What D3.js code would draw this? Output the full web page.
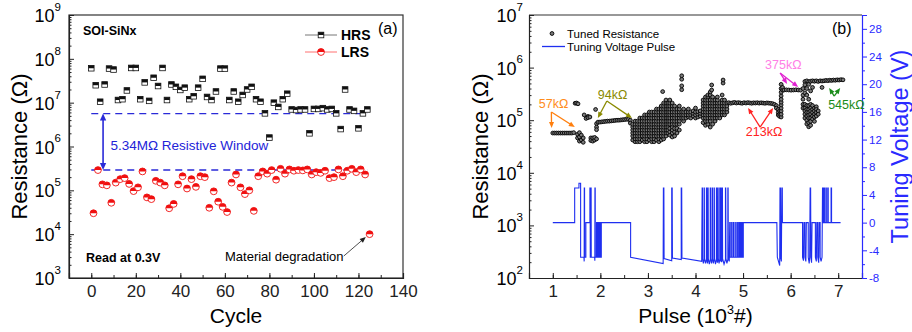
<!DOCTYPE html>
<html><head><meta charset="utf-8">
<script src="https://cdn.jsdelivr.net/npm/d3@7"></script>
<style>
body{margin:0;background:#fff;}
svg text{font-family:"Liberation Sans",Arial,Helvetica,sans-serif;}
</style></head>
<body><svg id="c" width="912" height="332"></svg>
<script>
// ---------------- DATA: panel (a) ----------------
const hrsCycle = [0,2,4,6,8,10,12,14,16,18,20,22,24,26,28,30,32,34,36,38,40,42,44,46,48,50,52,54,56,58,60,62,64,66,68,70,72,74,76,78,80,82,84,86,88,90,92,94,96,98,100,102,104,106,108,110,112,114,116,118,120,122,124];
const hrsMOhm = [61,25,10.5,26,60,57,11.5,12,19,62,62,12,29,11,37,24,62,11.5,26,23,19.5,22,12,14,22,35,13.5,11.5,18,60,60,11.5,18,10.5,15,20,23,12,10.5,5.7,1.6,10,8,12,16,7,6.8,7,7,2,7.2,7.2,7.5,7,7.2,5.7,2.5,20,7,6.5,2.6,5.7,7];
const lrsCycle = [1,3,5,7,9,11,13,15,17,19,21,23,25,27,29,31,33,35,37,39,41,43,45,47,49,51,53,55,57,59,61,63,65,67,69,71,73,75,77,79,81,83,85,87,89,91,93,95,97,99,101,103,105,107,109,111,113,115,117,119,121,123,125];
const lrsKOhm = [30,290,137,130,52,150,180,190,140,96,117,270,69,63,165,150,130,39,49,137,210,110,180,120,210,200,40,95,55,42,32,150,230,117,82,100,34,210,270,240,290,175,310,240,300,280,290,285,300,230,260,250,280,190,200,300,210,280,310,260,300,230,10];
const windowHigh = 5.63e6, windowLow = 2.9e5, windowCycles = [0,124];
const xTicksA = [0,20,40,60,80,100,120,140];
const yExpA = [3,4,5,6,7,8,9];

// ---------------- DATA: panel (b) ----------------
// tuned resistance: [pulse (10^3 #), [resistance values in kOhm]]
const tunedCols = [
[1.00,[57]],[1.04,[57]],[1.08,[57]],[1.12,[57]],[1.16,[57]],[1.20,[57]],[1.24,[57]],[1.28,[57]],[1.32,[57]],[1.36,[57]],[1.40,[57]],[1.44,[58]],
[1.47,[210]],[1.50,[212]],[1.53,[205]],
[1.52,[46,54]],[1.56,[40,48,58]],[1.60,[42,52]],[1.64,[46,38]],[1.66,[126]],[1.70,[108]],[1.74,[118,112]],[1.78,[115]],
[1.80,[46,41]],[1.84,[40,46]],[1.88,[42,47]],[1.90,[160]],[1.92,[44,86,74,66]],
[1.95,[92]],[1.99,[92]],[2.03,[93]],[2.07,[94]],[2.11,[95]],[2.15,[96]],[2.19,[96]],[2.23,[97]],[2.27,[98]],[2.31,[99]],[2.35,[100]],[2.39,[100]],[2.43,[101]],[2.47,[102]],[2.51,[103]],[2.55,[104]],[2.59,[104]],[2.63,[100,88]],
[2.68,[42,50,57,65,74,84]],
[2.73,[39,44,50,57,65,74,84,96]],
[2.78,[39,44,50,57,65,74,84,96]],
[2.83,[39,44,50,57,65,74,84,96,110]],
[2.88,[42,50,57,65,74,84,96,110]],
[2.93,[39,44,50,57,65,74,84,96,110,126]],
[2.98,[39,44,50,57,65,74,84,96,110,126]],
[3.03,[42,50,57,65,74,84,96,110,126,143]],
[3.08,[39,44,50,57,65,74,84,96,110,126,143]],
[3.13,[39,44,50,57,65,74,84,96,110,126,143]],
[3.18,[42,50,57,65,74,84,96,110,126,143,163]],
[3.23,[39,44,50,57,65,74,84,96,110,126,143,163]],
[3.28,[42,50,57,65,74,84,96,110,126,143,163,186]],
[3.31,[350]],
[3.33,[44,50,57,65,74,84,96,110,126,143,163,186,212]],
[3.38,[50,57,65,74,84,96,110,126,143,163,186,212,242]],
[3.42,[57,65,74,84,96,110,126,143,163,186,212]],
[3.46,[52,60,70,84,96,110,126,143,163,186,212,242]],
[3.51,[48,57,65,74,84,96,110,126,143,163,186,212]],
[3.56,[50,60,70,84,96,110,126,143,163,186]],
[3.61,[57,70,84,96,110,126,143,163]],
[3.66,[65,84,96,110,126,143,163,186]],
[3.71,[110,126,143,380,450,600,700]],
[3.75,[96,110,126,143,163]],
[3.80,[110,126,143]],
[3.85,[115,126,143,163]],
[3.90,[110,126,143]],
[3.95,[120,135,150]],
[4.00,[110,126,143,170]],
[4.05,[115,130,145]],
[4.10,[120,135,150]],
[4.16,[90,110,126,143,163,186,212,242]],
[4.21,[80,96,110,126,143,163,186,212,242,276]],
[4.26,[84,96,110,126,143,163,186,212,242,276,301]],
[4.31,[74,96,110,126,143,163,186,212,242,301,344]],
[4.34,[375,467]],
[4.36,[84,110,126,143,163,186,212,242,276]],
[4.41,[96,110,126,143,163,186,212,242]],
[4.46,[110,126,143,163,186,212,242,276]],
[4.51,[110,126,143,163,186,212]],
[4.56,[126,143,163,186,212,242,301]],
[4.58,[508,581]],
[4.61,[126,143,163,186,212,242]],
[4.66,[143,163,186,212]],
[4.70,[215]],[4.74,[210]],[4.78,[214]],[4.82,[218]],[4.86,[212]],[4.90,[216]],[4.94,[213]],[4.98,[210]],[5.02,[215]],[5.06,[212]],[5.10,[216]],[5.14,[213]],[5.18,[210]],[5.22,[214]],[5.26,[212]],[5.30,[215]],[5.34,[211]],[5.38,[214]],[5.42,[212]],[5.46,[210]],[5.50,[213]],[5.54,[211]],[5.58,[209]],[5.62,[206]],[5.66,[200]],
[5.70,[190,170]],[5.74,[160,140,125]],[5.77,[150,130,118]],
[5.80,[115,130,150,170,195,220,250,290,340,400,480]],
[5.83,[375,420]],
[5.86,[375]],[5.91,[378]],[5.96,[375]],[6.01,[372]],[6.06,[375]],[6.11,[378]],[6.16,[375]],[6.21,[372]],
[6.26,[400,300,250,200,170]],
[6.30,[545,470,330,200,170,150,130,110]],
[6.34,[560,400,300,190,160,140,120,100,85]],
[6.38,[540,480,250,190,160,140,125,110,90,75]],
[6.42,[550,360,200,170,150,130,110,95,80]],
[6.46,[560,420,190,160,140,120,105]],
[6.50,[550,170,150,130,115,95]],
[6.54,[560,180,160,140,120]],
[6.58,[545,150,130]],
[6.62,[560]],[6.66,[555,420]],[6.70,[560]],[6.74,[570]],[6.78,[565]],[6.82,[575]],[6.86,[570]],[6.90,[580]],[6.94,[575]],[6.98,[585]],[7.02,[580]],[7.06,[590]],[7.10,[585]]
];
// tuning voltage pulse: [pulse (10^3 #), volts]
const voltSteps = [
[1.00,0],[1.46,0],[1.46,5],[1.55,5],[1.55,5.7],[1.585,5.7],[1.585,-5],[1.655,-5],[1.66,-5.6],[1.662,5],[1.668,5],[1.67,-5],[1.695,-5],[1.695,0],[1.78,0],[1.78,5],[1.786,5],[1.788,-5],[1.80,-5],[1.80,5],[1.806,5],[1.808,-5],[1.88,-5],[1.884,-5.5],[1.886,5],[1.892,5],[1.894,-5],[1.92,-5],[1.92,0],[1.93,0],[1.93,-5],[1.94,-5],[1.94,0],[1.95,0],[1.95,-5],[1.96,-5],[1.96,0],[1.97,0],[1.97,-5],[1.98,-5],[1.98,0],[1.99,0],[1.99,-5],[2.00,-5],[2.00,0],[2.01,0],[2.01,-5],[2.02,-5],[2.02,0],
[2.636,0],[2.636,-5],[3.32,-5.9],[3.325,5],[3.335,5],[3.34,-5.2],[3.50,-5.5],[3.50,5],[3.51,5],[3.515,-5.1],[3.70,-5.35],[3.70,5],[3.71,5],[3.715,-5.1],[4.13,-5.6],
[4.14,5],[4.146,5],[4.15,-5.2],[4.165,-5.9],[4.18,-5.3],[4.18,5],[4.186,5],[4.19,-5.2],[4.21,-5.9],[4.23,-5.3],[4.23,5],[4.236,5],[4.24,-5.2],[4.25,-5.9],[4.26,-5.3],[4.26,5],[4.266,5],[4.27,-5.2],[4.29,-6],[4.31,-5.3],[4.31,5],[4.316,5],[4.32,-5.2],[4.335,-5.9],[4.35,-5.3],[4.35,5],[4.356,5],[4.36,-5.2],[4.375,-5.9],[4.39,-5.3],[4.39,5],[4.396,5],[4.40,-5.2],[4.42,-6],[4.44,-5.3],[4.44,5],[4.446,5],[4.45,-5.2],[4.46,-5.8],[4.47,-5.3],[4.47,5],[4.476,5],[4.48,-5.2],[4.495,-5.9],[4.51,-5.3],[4.51,5],[4.516,5],[4.52,-5.2],[4.525,-5.6],[4.53,-5.3],[4.53,5],[4.536,5],[4.54,-5.2],[4.55,-5.7],[4.56,-5.3],[4.56,5],[4.566,5],[4.57,-5.2],[4.60,-6],[4.63,-5.3],[4.63,5],[4.636,5],[4.64,-5.2],[4.66,-5.9],[4.68,-5.3],[4.68,5],[4.686,5],[4.69,-5.2],[4.71,-5.6],
[4.72,0],[4.73,0],[4.73,-5],[4.76,-5],[4.76,0],[4.77,0],[4.77,-5],[4.80,-5],[4.80,0],[4.81,0],[4.81,-5],[4.845,-5],[4.845,0],[4.855,0],[4.855,-5],[4.885,-5],[4.885,0],[4.895,0],[4.895,-5],[4.92,-5],[4.92,0],[4.93,0],[4.93,-5],[4.95,-5],[4.95,0],[4.96,0],[4.96,-5],[4.975,-5],[4.975,0],[4.98,0],[4.98,-5],[4.99,-5],[4.99,0],[4.995,0],[4.995,-5],[5.005,-5],[5.005,0],
[5.71,0],[5.72,-5],[5.77,-6.2],[5.776,5],[5.786,5],[5.79,-5],[5.805,-5.6],[5.815,5],[5.825,5],[5.827,0],
[6.25,0],[6.25,-5],[6.27,-5.5],[6.28,0],[6.30,0],[6.30,-5],[6.32,-5.6],[6.33,0],[6.37,0],[6.37,-5],[6.39,-5.9],[6.40,-5],[6.41,5],[6.42,5],[6.425,-5],[6.44,-5.8],[6.45,0],[6.52,0],[6.52,-5],[6.54,-5.6],[6.55,0],[6.57,0],[6.57,-5],[6.59,-5.8],[6.60,0],[6.62,0],[6.62,-5],[6.64,-5.6],[6.66,-5],[6.67,5],[6.68,5],[6.68,0],[6.70,0],[6.70,5],[6.71,5],[6.71,0],[6.74,0],[6.74,5],[6.75,5],[6.75,0],[6.78,0],[6.78,5],[6.79,5],[6.79,0],[6.85,0],[6.85,5],[6.86,5],[6.86,0],[7.05,0]
];
const xTicksB = [1,2,3,4,5,6,7];
const yExpB = [2,3,4,5,6,7];
const voltTicks = [-8,-4,0,4,8,12,16,20,24,28];
// annotations: label, colour, text anchor [pulse,kOhm], arrow tail, arrow heads
const annots = [
 {t:"57k\u03A9", c:"#ff7f0e", tc:"#ff8c1a", at:[0.705,171], from:[0.97,143], to:[[0.975,71],[1.463,74]]},
 {t:"94k\u03A9", c:"#8a8a00", tc:"#8a8a00", at:[1.947,253], from:[2.137,232], to:[[1.947,110],[2.663,110]]},
 {t:"213k\u03A9", c:"#ff2222", tc:"#ff2222", at:[5.057,50], from:[5.358,74], to:[[5.105,171],[5.632,171]]},
 {t:"375k\u03A9", c:"#e020d0", tc:"#ff80e6", at:[5.463,940], from:[5.779,789], to:[[5.926,488],[6.158,428]]},
 {t:"545k\u03A9", c:"#1a8c1a", tc:"#1a8c1a", at:[6.789,163], from:[6.916,288], to:[[6.81,409],[7.042,409]]}
];

// ---------------- DRAW ----------------
const svg = d3.select("#c");
const blue = "#1f2ff0", axisBlue = "#2a2aff";

function arrowHead(g,x1,y1,x2,y2,color,hl,hwf){
  const a = Math.atan2(y2-y1,x2-x1), hw = hl*hwf;
  const bx = x2-hl*Math.cos(a), by = y2-hl*Math.sin(a);
  g.append("path").attr("d",`M${x2},${y2}L${bx+hw*Math.sin(a)},${by-hw*Math.cos(a)}L${bx-hw*Math.sin(a)},${by+hw*Math.cos(a)}Z`).attr("fill",color);
}
function arrow(g,x1,y1,x2,y2,color,w,hl){
  const a = Math.atan2(y2-y1,x2-x1);
  g.append("line").attr("x1",x1).attr("y1",y1).attr("x2",x2-hl*0.7*Math.cos(a)).attr("y2",y2-hl*0.7*Math.sin(a)).attr("stroke",color).attr("stroke-width",w);
  arrowHead(g,x1,y1,x2,y2,color,hl,0.42);
}
function supText(g,x,y,base,exp,anchor,size,ssize,color){
  const t = g.append("text").attr("x",x).attr("y",y).attr("text-anchor",anchor).attr("fill",color||"#000").style("font-size",size+"px");
  t.append("tspan").text(base);
  t.append("tspan").attr("dy",-size*0.62).style("font-size",ssize+"px").text(exp);
  return t;
}
function logMinor(exps){
  const out=[];
  for(let i=0;i<exps.length-1;i++) for(let m=2;m<=9;m++) out.push(m*Math.pow(10,exps[i]));
  return out;
}
function styleAxis(sel,color){
  sel.selectAll("path").attr("stroke",color).attr("stroke-width",1.2);
  sel.selectAll("line").attr("stroke",color).attr("stroke-width",1);
  sel.selectAll("text").attr("fill",color).style("font-family",'"Liberation Sans",Arial,sans-serif');
}

// ===== Panel (a) =====
const xA = d3.scaleLinear().domain([-10,140]).range([69,403]);
const yA = d3.scaleLog().domain([1e3,1e9]).range([278,15]);
const gA = svg.append("g");
const [aL,aR] = xA.range(), [aB,aT] = yA.range();
gA.append("rect").attr("x",aL).attr("y",aT).attr("width",aR-aL).attr("height",aB-aT).attr("fill","none").attr("stroke","#333").attr("stroke-width",1.2);

const axA = gA.append("g").attr("transform",`translate(0,${aB})`).call(d3.axisBottom(xA).tickValues(xTicksA).tickSize(-5).tickPadding(7).tickFormat(d=>String(d)));
axA.selectAll("text").style("font-size","17px");
styleAxis(axA,"#222");
const axAm = gA.append("g").attr("transform",`translate(0,${aB})`).call(d3.axisBottom(xA).tickValues(d3.range(-10,141,10)).tickSize(-3).tickFormat(""));
axAm.select("path").remove(); styleAxis(axAm,"#222");
const ayA = gA.append("g").attr("transform",`translate(${aL},0)`).call(d3.axisLeft(yA).tickValues(yExpA.map(e=>Math.pow(10,e))).tickSize(-5).tickFormat(""));
styleAxis(ayA,"#222");
const ayAm = gA.append("g").attr("transform",`translate(${aL},0)`).call(d3.axisLeft(yA).tickValues(logMinor(yExpA)).tickSize(-2.5).tickFormat(""));
ayAm.select("path").remove(); styleAxis(ayAm,"#222");
yExpA.forEach(e=>supText(gA,aL-8,yA(Math.pow(10,e))+7,"10",String(e),"end",18,11.5));

// window dashed lines
[windowHigh,windowLow].forEach(v=>{
  gA.append("line").attr("x1",xA(windowCycles[0])).attr("x2",xA(windowCycles[1])).attr("y1",yA(v)).attr("y2",yA(v))
    .attr("stroke","#2a2ad8").attr("stroke-width",1.4).attr("stroke-dasharray","7,5");
});
{
  const ax = xA(5.3), y1 = yA(windowHigh), y2 = yA(windowLow);
  gA.append("line").attr("x1",ax).attr("x2",ax).attr("y1",y1+5).attr("y2",y2-5).attr("stroke","#2a2ad8").attr("stroke-width",1.6);
  arrowHead(gA,ax,y2,ax,y1,"#2a2ad8",7,0.45);
  arrowHead(gA,ax,y1,ax,y2,"#2a2ad8",7,0.45);
  gA.append("text").attr("x",xA(8.6)).attr("y",yA(8.3e5)).attr("fill","#2323d8").style("font-size","13.5px").text("5.34M\u03A9 Resistive Window");
}
// HRS squares
const hs = 5.6;
const hrsG = gA.append("g").selectAll("g").data(hrsCycle.map((c,i)=>[c,hrsMOhm[i]*1e6])).join("g")
  .attr("transform",d=>`translate(${xA(d[0])},${yA(d[1])})`);
hrsG.append("rect").attr("x",-hs/2).attr("y",-hs/2).attr("width",hs).attr("height",hs).attr("fill","#fff").attr("stroke","#111").attr("stroke-width",0.8);
hrsG.append("rect").attr("x",-hs/2).attr("y",-hs/2).attr("width",hs).attr("height",hs/2).attr("fill","#111");
// LRS circles
const lr = 3.4;
const lrsG = gA.append("g").selectAll("g").data(lrsCycle.map((c,i)=>[c,lrsKOhm[i]*1e3])).join("g")
  .attr("transform",d=>`translate(${xA(d[0])},${yA(d[1])})`);
lrsG.append("circle").attr("r",lr).attr("fill","#fff").attr("stroke","#f01010").attr("stroke-width",0.9);
lrsG.append("path").attr("d",`M${-lr},0A${lr},${lr} 0 0 1 ${lr},0Z`).attr("fill","#f01010");

// texts panel a
gA.append("text").attr("x",83).attr("y",35).style("font-size","12.5px").style("font-weight","bold").text("SOI-SiNx");
gA.append("text").attr("x",86).attr("y",262).style("font-size","12.5px").style("font-weight","bold").text("Read at 0.3V");
gA.append("text").attr("x",378).attr("y",34).style("font-size","16px").text("(a)");
gA.append("text").attr("x",225).attr("y",261).style("font-size","13px").text("Material degradation");
arrow(gA,xA(113.4),yA(3.17e3),xA(123.3),yA(8.6e3),"#222",0.8,6);
// legend a
gA.append("line").attr("x1",305).attr("x2",337).attr("y1",35).attr("y2",35).attr("stroke","#777").attr("stroke-width",1);
{const g=gA.append("g").attr("transform","translate(321,35)");
 g.append("rect").attr("x",-hs/2).attr("y",-hs/2).attr("width",hs).attr("height",hs).attr("fill","#fff").attr("stroke","#111").attr("stroke-width",0.8);
 g.append("rect").attr("x",-hs/2).attr("y",-hs/2).attr("width",hs).attr("height",hs/2).attr("fill","#111");}
gA.append("text").attr("x",341).attr("y",40).style("font-size","14px").style("font-weight","bold").text("HRS");
gA.append("line").attr("x1",305).attr("x2",337).attr("y1",52).attr("y2",52).attr("stroke","#ff7070").attr("stroke-width",1);
{const g=gA.append("g").attr("transform","translate(321,52)");
 g.append("circle").attr("r",lr).attr("fill","#fff").attr("stroke","#f01010").attr("stroke-width",0.9);
 g.append("path").attr("d",`M${-lr},0A${lr},${lr} 0 0 1 ${lr},0Z`).attr("fill","#f01010");}
gA.append("text").attr("x",341).attr("y",57).style("font-size","14px").style("font-weight","bold").text("LRS");
// axis titles a
svg.append("text").attr("transform",`translate(27,${(aT+aB)/2}) rotate(-90)`).attr("text-anchor","middle").style("font-size","22px").text("Resistance (\u03A9)");
svg.append("text").attr("x",(aL+aR)/2).attr("y",323).attr("text-anchor","middle").style("font-size","21px").text("Cycle");

// ===== Panel (b) =====
const xB = d3.scaleLinear().domain([0.5,7.5]).range([529,862]);
const yB = d3.scaleLog().domain([1e2,1e7]).range([278,15]);
const yV = d3.scaleLinear().domain([-8,30]).range([278,15]);
const gB = svg.append("g");
const [bL,bR] = xB.range(), [bB,bT] = yB.range();
gB.append("line").attr("x1",bL).attr("x2",bR).attr("y1",bT).attr("y2",bT).attr("stroke","#333").attr("stroke-width",1.2);
const axB = gB.append("g").attr("transform",`translate(0,${bB})`).call(d3.axisBottom(xB).tickValues(xTicksB).tickSize(-5).tickPadding(7).tickFormat(d=>String(d)));
axB.selectAll("text").style("font-size","17px"); styleAxis(axB,"#222");
const axBm = gB.append("g").attr("transform",`translate(0,${bB})`).call(d3.axisBottom(xB).tickValues(d3.range(0.5,7.6,0.5)).tickSize(-3).tickFormat(""));
axBm.select("path").remove(); styleAxis(axBm,"#222");
const ayB = gB.append("g").attr("transform",`translate(${bL},0)`).call(d3.axisLeft(yB).tickValues(yExpB.map(e=>Math.pow(10,e))).tickSize(-5).tickFormat(""));
styleAxis(ayB,"#222");
const ayBm = gB.append("g").attr("transform",`translate(${bL},0)`).call(d3.axisLeft(yB).tickValues(logMinor(yExpB)).tickSize(-2.5).tickFormat(""));
ayBm.select("path").remove(); styleAxis(ayBm,"#222");
yExpB.forEach(e=>supText(gB,bL-6,yB(Math.pow(10,e))+7,"10",String(e),"end",18,11.5));
// right axis
const ayV = gB.append("g").attr("transform",`translate(${bR},0)`).call(d3.axisRight(yV).tickValues(voltTicks).tickSize(5).tickPadding(2).tickFormat(d=>String(d)));
ayV.selectAll("text").style("font-size","11.5px"); styleAxis(ayV,axisBlue);
const ayVm = gB.append("g").attr("transform",`translate(${bR},0)`).call(d3.axisRight(yV).tickValues(d3.range(-6,31,4)).tickSize(3).tickFormat(""));
ayVm.select("path").remove(); styleAxis(ayVm,axisBlue);

// voltage line
gB.append("path").datum(voltSteps).attr("fill","none").attr("stroke",blue).attr("stroke-width",1.1)
  .attr("d",d3.line().x(d=>xB(d[0])).y(d=>yV(d[1])));
// tuned resistance points
const pts = [];
tunedCols.forEach(([p,vals])=>vals.forEach(v=>pts.push([p,v*1e3])));
gB.append("g").selectAll("circle").data(pts).join("circle")
  .attr("cx",d=>xB(d[0])).attr("cy",d=>yB(d[1])).attr("r",1.9)
  .attr("fill","#7a7a7a").attr("stroke","#000").attr("stroke-width",0.9);

// annotations
annots.forEach(a=>{
  gB.append("text").attr("x",xB(a.at[0])).attr("y",yB(a.at[1]*1e3)).attr("fill",a.tc).style("font-size","12.5px").text(a.t);
  a.to.forEach(t=>arrow(gB,xB(a.from[0]),yB(a.from[1]*1e3),xB(t[0]),yB(t[1]*1e3),a.c,1.3,6));
});
// legend b
gB.append("circle").attr("cx",552).attr("cy",33.5).attr("r",1.9).attr("fill","#7a7a7a").attr("stroke","#000").attr("stroke-width",0.9);
gB.append("text").attr("x",567).attr("y",37.5).style("font-size","11.5px").text("Tuned Resistance");
gB.append("line").attr("x1",542).attr("x2",565).attr("y1",46.5).attr("y2",46.5).attr("stroke",blue).attr("stroke-width",1.3);
gB.append("text").attr("x",567).attr("y",50.5).style("font-size","11.5px").text("Tuning Voltage Pulse");
gB.append("text").attr("x",832).attr("y",34).style("font-size","16px").text("(b)");
// axis titles b
svg.append("text").attr("transform",`translate(488,${(bT+bB)/2}) rotate(-90)`).attr("text-anchor","middle").style("font-size","22px").text("Resistance (\u03A9)");
{
  const t = svg.append("text").attr("x",(bL+bR)/2).attr("y",323).attr("text-anchor","middle").style("font-size","21px");
  t.append("tspan").text("Pulse (10");
  t.append("tspan").attr("dy",-9).style("font-size","12.5px").text("3");
  t.append("tspan").attr("dy",9).text("#)");
}
svg.append("text").attr("transform",`translate(908,${(bT+bB)/2}) rotate(-90)`).attr("text-anchor","middle").attr("fill",axisBlue).style("font-size","23.5px").text("Tuning Voltage (V)");
</script></body></html>
